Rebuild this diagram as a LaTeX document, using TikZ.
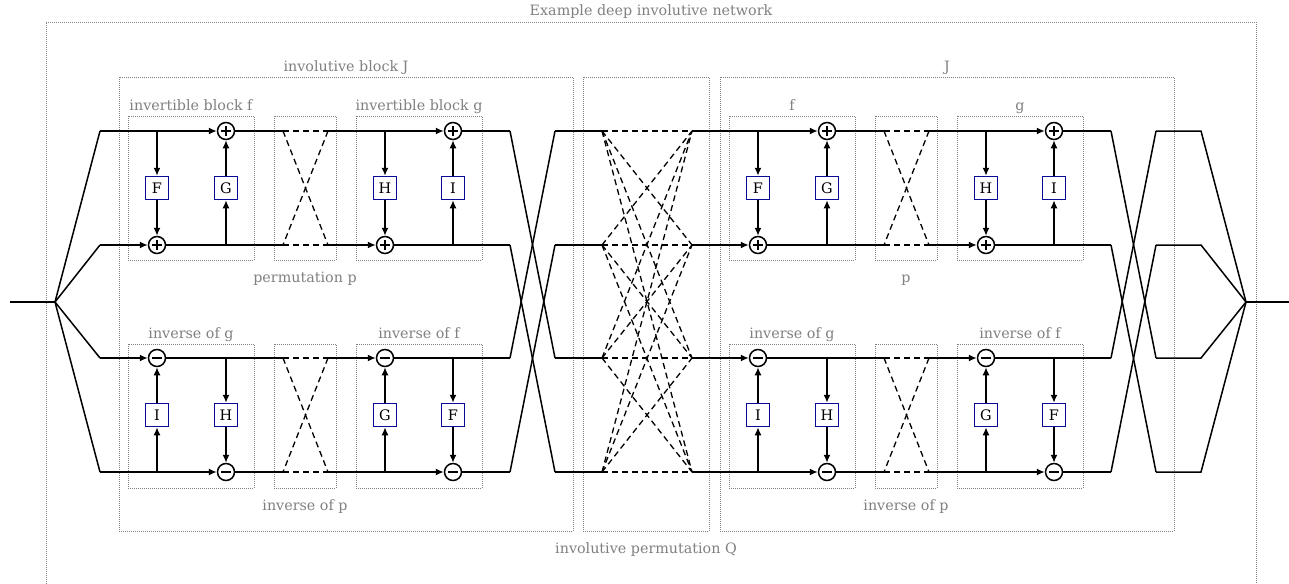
\documentclass[tikz,border=0pt]{standalone}
\usepackage{fontspec}
\setmainfont{DejaVu Serif}
\usetikzlibrary{arrows.meta}
\definecolor{labgray}{RGB}{128,128,128}
\definecolor{boxblue}{RGB}{10,10,150}
\tikzset{
  wire/.style={line width=1.5pt},
  arr/.style={wire,-{Latex[length=8pt,width=7pt]}},
  permline/.style={line width=1.3pt, dash pattern=on 6pt off 4pt},
  dbox/.style={draw=labgray, line width=0.9pt, dash pattern=on 1pt off 1pt, inner sep=0pt},
  lab/.style={text=labgray, font=\fontsize{14.3}{16}\selectfont, inner sep=2pt, text height=10.5pt, text depth=3pt},
  labb/.style={lab, label distance=9pt},
  fnbox/.style={draw=boxblue, line width=1.5pt, minimum size=23pt, inner sep=0pt, fill=white, font=\fontsize{14.5}{16}\selectfont},
  opl/.style={circle, draw, line width=1.5pt, minimum size=17pt, inner sep=0pt, fill=white,
    path picture={\draw[line width=1.3pt] ([xshift=3.5pt]path picture bounding box.west)--([xshift=-3.5pt]path picture bounding box.east) ([yshift=-3.5pt]path picture bounding box.north)--([yshift=3.5pt]path picture bounding box.south);}},
  omi/.style={circle, draw, line width=1.5pt, minimum size=17pt, inner sep=0pt, fill=white,
    path picture={\draw[line width=1.3pt] ([xshift=3.5pt]path picture bounding box.west)--([xshift=-3.5pt]path picture bounding box.east);}},
}
\newcommand\Jhalf[6]{%
\begin{scope}[xshift=#2pt]
  \node[dbox, minimum width=454pt, minimum height=454pt, label={[lab]above:#3}] (#1J) at (346,304) {};
  \node[dbox, minimum width=126pt, minimum height=144pt, label={[lab]above:#4}] (#1bf) at (191,188) {};
  \node[dbox, minimum width=62pt, minimum height=144pt, label={[labb]below:#5}] (#1bp) at (305,188) {};
  \node[dbox, minimum width=126pt, minimum height=144pt, label={[lab]above:#6}] (#1bg) at (419,188) {};
  \node[dbox, minimum width=126pt, minimum height=144pt, label={[lab]above:inverse of g}] (#1big) at (191,416) {};
  \node[dbox, minimum width=62pt, minimum height=144pt, label={[labb]below:inverse of p}] (#1bip) at (305,416) {};
  \node[dbox, minimum width=126pt, minimum height=144pt, label={[lab]above:inverse of f}] (#1bif) at (419,416) {};
  % top row
  \node[opl] (#1pa) at (226,131) {};
  \node[opl] (#1pb) at (157,245) {};
  \node[fnbox] (#1F) at (157,188) {F};
  \node[fnbox] (#1G) at (226,188) {G};
  \node[opl] (#1pc) at (453,131) {};
  \node[opl] (#1pd) at (385,245) {};
  \node[fnbox] (#1H) at (385,188) {H};
  \node[fnbox] (#1I) at (453,188) {I};
  % bottom row
  \node[omi] (#1ma) at (157,358) {};
  \node[omi] (#1mb) at (226,472) {};
  \node[fnbox] (#1Ib) at (157,415) {I};
  \node[fnbox] (#1Hb) at (226,415) {H};
  \node[omi] (#1mc) at (385,358) {};
  \node[omi] (#1md) at (453,472) {};
  \node[fnbox] (#1Gb) at (385,415) {G};
  \node[fnbox] (#1Fb) at (453,415) {F};
  % coordinates
  \coordinate (#1a1) at (283,131); \coordinate (#1b1) at (328,131);
  \coordinate (#1a2) at (283,245); \coordinate (#1b2) at (328,245);
  \coordinate (#1a3) at (283,358); \coordinate (#1b3) at (328,358);
  \coordinate (#1a4) at (283,472); \coordinate (#1b4) at (328,472);
  \coordinate (#1e1) at (510,131); \coordinate (#1e2) at (510,245);
  \coordinate (#1e3) at (510,358); \coordinate (#1e4) at (510,472);
  \coordinate (#1t1) at (157,131); \coordinate (#1t2) at (226,245);
  \coordinate (#1t3) at (385,131); \coordinate (#1t4) at (453,245);
  \coordinate (#1u1) at (157,472); \coordinate (#1u2) at (226,358);
  \coordinate (#1u3) at (385,472); \coordinate (#1u4) at (453,358);
  % top wires
  \draw[arr] (#1s1) -- (#1pa);
  \draw[arr] (#1s2) -- (#1pb);
  \draw[arr] (#1t1) -- (#1F);
  \draw[arr] (#1F) -- (#1pb);
  \draw[arr] (#1t2) -- (#1G);
  \draw[arr] (#1G) -- (#1pa);
  \draw[wire] (#1pa) -- (#1a1);
  \draw[wire] (#1pb) -- (#1a2);
  \draw[permline] (#1a1) -- (#1b1);
  \draw[permline] (#1a2) -- (#1b2);
  \draw[permline] (#1a1) -- (#1b2);
  \draw[permline] (#1b1) -- (#1a2);
  \draw[arr] (#1b1) -- (#1pc);
  \draw[arr] (#1b2) -- (#1pd);
  \draw[arr] (#1t3) -- (#1H);
  \draw[arr] (#1H) -- (#1pd);
  \draw[arr] (#1t4) -- (#1I);
  \draw[arr] (#1I) -- (#1pc);
  \draw[wire] (#1pc) -- (#1e1);
  \draw[wire] (#1pd) -- (#1e2);
  % bottom wires
  \draw[arr] (#1s3) -- (#1ma);
  \draw[arr] (#1s4) -- (#1mb);
  \draw[arr] (#1u1) -- (#1Ib);
  \draw[arr] (#1Ib) -- (#1ma);
  \draw[arr] (#1u2) -- (#1Hb);
  \draw[arr] (#1Hb) -- (#1mb);
  \draw[wire] (#1ma) -- (#1a3);
  \draw[wire] (#1mb) -- (#1a4);
  \draw[permline] (#1a3) -- (#1b3);
  \draw[permline] (#1a4) -- (#1b4);
  \draw[permline] (#1a3) -- (#1b4);
  \draw[permline] (#1b3) -- (#1a4);
  \draw[arr] (#1b3) -- (#1mc);
  \draw[arr] (#1b4) -- (#1md);
  \draw[arr] (#1u3) -- (#1Gb);
  \draw[arr] (#1Gb) -- (#1mc);
  \draw[arr] (#1u4) -- (#1Fb);
  \draw[arr] (#1Fb) -- (#1md);
  \draw[wire] (#1mc) -- (#1e3);
  \draw[wire] (#1md) -- (#1e4);
\end{scope}}
\begin{document}
\begin{tikzpicture}[x=1pt,y=-1pt]
  \useasboundingbox (0,0) rectangle (1289,583);
  \clip (0,0) rectangle (1289,583);
  % outer frame
  \draw[dbox] (46,600) -- (46,22) -- (1256,22) -- (1256,600);
  \node[lab] (title) at (651,12) {Example deep involutive network};
  % global coordinates
  \coordinate (in) at (10,302);
  \coordinate (fan) at (55,302);
  \coordinate (fan2) at (1246,302);
  \coordinate (out) at (1289,302);
  \foreach \i/\y in {1/131,2/245,3/358,4/472}{
    \coordinate (Ls\i) at (100,\y);
    \coordinate (c\i) at (555,\y);
    \coordinate (q\i) at (602,\y);
    \coordinate (Rs\i) at (692,\y);
    \coordinate (d\i) at (1156,\y);
    \coordinate (o\i) at (1201,\y);
  }
  % permutation Q box
  \node[dbox, minimum width=126pt, minimum height=454pt, label={[labb]below:involutive permutation Q}] (Qbox) at (646,304) {};
  \Jhalf{L}{0}{involutive block J}{invertible block f}{permutation p}{invertible block g}
  \Jhalf{R}{601}{J}{f}{p}{g}
  % input fan
  \draw[wire] (in) -- (fan);
  \foreach \i in {1,...,4}{\draw[wire] (fan) -- (Ls\i);}
  % crossing before Q
  \draw[wire] (Le1) -- (c3);
  \draw[wire] (Le2) -- (c4);
  \draw[wire] (Le3) -- (c1);
  \draw[wire] (Le4) -- (c2);
  \foreach \i in {1,...,4}{\draw[wire] (c\i) -- (q\i);}
  % involutive permutation Q
  \foreach \i in {1,...,4}{\foreach \j in {1,...,4}{\draw[permline] (q\i) -- (Rs\j);}}
  % crossing after right J
  \draw[wire] (Re1) -- (d3);
  \draw[wire] (Re2) -- (d4);
  \draw[wire] (Re3) -- (d1);
  \draw[wire] (Re4) -- (d2);
  \foreach \i in {1,...,4}{\draw[wire] (d\i) -- (o\i) -- (fan2);}
  \draw[wire] (fan2) -- (out);
\end{tikzpicture}
\end{document}
